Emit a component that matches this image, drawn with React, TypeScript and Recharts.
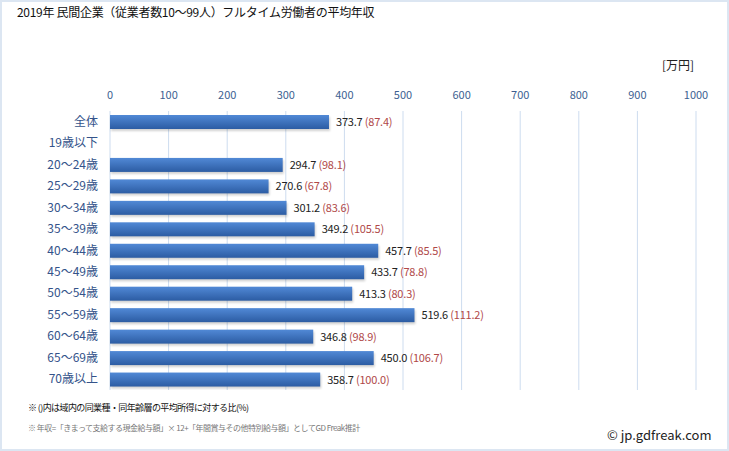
import { Bar, BarChart, CartesianGrid, LabelList, XAxis, YAxis } from 'recharts';

const categories = [
  '全体',
  '19歳以下',
  '20～24歳',
  '25～29歳',
  '30～34歳',
  '35～39歳',
  '40～44歳',
  '45～49歳',
  '50～54歳',
  '55～59歳',
  '60～64歳',
  '65～69歳',
  '70歳以上',
];
const incomes = [373.7, null, 294.7, 270.6, 301.2, 349.2, 457.7, 433.7, 413.3, 519.6, 346.8, 450.0, 358.7];
const ratios = [87.4, null, 98.1, 67.8, 83.6, 105.5, 85.5, 78.8, 80.3, 111.2, 98.9, 106.7, 100.0];
const xTicks = [0, 100, 200, 300, 400, 500, 600, 700, 800, 900, 1000];

const data = categories.map((name, i) => ({
  name,
  income: incomes[i],
  ratio: ratios[i],
}));

const FONT = "'Noto Sans CJK JP', 'Noto Sans', sans-serif";

const XTick = ({ x, payload }: any) => (
  <text x={x} y={99} textAnchor='middle' fontSize={11} fill='#3d5f91' fontFamily={FONT}>
    {payload.value}
  </text>
);

const YTick = ({ y, payload }: any) => (
  <text x={98} y={y} dy={4} textAnchor='end' fontSize={12} fill='#34538a' fontFamily={FONT}>
    {payload.value}
  </text>
);

const BarShape = (props: any) => {
  const { x, y, width, height } = props;
  if (!width || width <= 0) return null;
  return (
    <g>
      <rect x={x + 1} y={y + 2} width={width} height={height} fill='#000' opacity={0.18} filter='url(#barBlur)' />
      <rect x={x} y={y} width={width} height={height} fill='url(#barGrad)' />
    </g>
  );
};

const ValueLabel = (props: any) => {
  const { x, y, width, height, value } = props;
  if (value == null) return null;
  const i = incomes.indexOf(value);
  const r = ratios[i];
  return (
    <text x={x + width + 7} y={y + height / 2 + 4} fontSize={11} fontFamily={FONT} letterSpacing={-0.2}>
      <tspan fill='#222'>{Number(value).toFixed(1)}</tspan>
      <tspan fill='#b04848'> ({r!.toFixed(1)})</tspan>
    </text>
  );
};

export default function App() {
  return (
    <div
      style={{
        position: 'absolute',
        left: 0,
        top: 0,
        width: 729,
        height: 451,
        background: '#fff',
        fontFamily: FONT,
      }}
    >
      <BarChart
        width={729}
        height={451}
        data={data}
        layout='vertical'
        margin={{ top: 91, right: 33, bottom: 61, left: 0 }}
        barCategoryGap={0}
      >
        <defs>
          <linearGradient id='barGrad' x1='0' y1='0' x2='0' y2='1'>
            <stop offset='0%' stopColor='#5189d6' />
            <stop offset='100%' stopColor='#2c5ca3' />
          </linearGradient>
          <filter id='barBlur'>
            <feGaussianBlur stdDeviation='1' />
          </filter>
        </defs>
        <CartesianGrid horizontal={false} stroke='#cddcef' />
        <XAxis
          type='number'
          orientation='top'
          domain={[0, 1000]}
          ticks={xTicks}
          height={20}
          axisLine={false}
          tickLine={false}
          tick={<XTick />}
          interval={0}
        />
        <YAxis
          type='category'
          dataKey='name'
          width={110}
          axisLine={false}
          tickLine={false}
          tick={<YTick />}
          interval={0}
        />
        <Bar dataKey='income' barSize={14} shape={<BarShape />} isAnimationActive={false}>
          <LabelList dataKey='income' content={<ValueLabel />} />
        </Bar>
      </BarChart>

      <div style={{ position: 'absolute', left: 17, top: 3, fontSize: 12, color: '#111', whiteSpace: 'nowrap', letterSpacing: -0.3 }}>
        2019年 民間企業（従業者数10～99人）フルタイム労働者の平均年収
      </div>
      <div style={{ position: 'absolute', left: 662, top: 56, fontSize: 12, color: '#222' }}>[万円]</div>
      <div style={{ position: 'absolute', left: 28, top: 401, fontSize: 9, color: '#111', whiteSpace: 'nowrap', letterSpacing: -0.6 }}>
        ※ ()内は域内の同業種・同年齢層の平均所得に対する比(%)
      </div>
      <div style={{ position: 'absolute', left: 28, top: 422, fontSize: 8, color: '#777', whiteSpace: 'nowrap', letterSpacing: -0.5 }}>
        ※ 年収=「きまって支給する現金給与額」× 12+「年間賞与その他特別給与額」としてGD Freak推計
      </div>
      <div style={{ position: 'absolute', left: 607, top: 425, fontSize: 13, color: '#222', whiteSpace: 'nowrap' }}>
        © jp.gdfreak.com
      </div>
      <div
        style={{
          position: 'absolute',
          left: 0,
          top: 0,
          width: 729,
          height: 451,
          boxSizing: 'border-box',
          border: '2px solid #dce6f2',
          pointerEvents: 'none',
        }}
      />
    </div>
  );
}
